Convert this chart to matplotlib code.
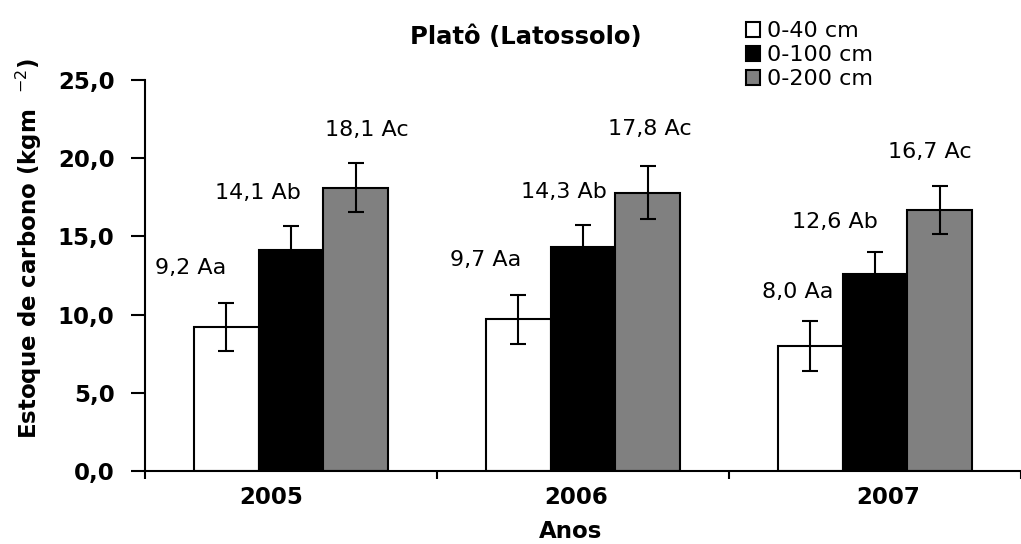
import numpy as np
import matplotlib
matplotlib.use("Agg")
import matplotlib.pyplot as plt
import matplotlib.transforms as mtransforms
from matplotlib.ticker import FuncFormatter, FixedLocator

# data
anos = ["2005", "2006", "2007"]
profundidades = ["0-40 cm", "0-100 cm", "0-200 cm"]
est_0_40 = [9.2, 9.7, 8.0]
est_0_100 = [14.1, 14.3, 12.6]
est_0_200 = [18.1, 17.8, 16.7]
erro_0_40 = [1.55, 1.55, 1.6]
erro_0_100 = [1.55, 1.4, 1.4]
erro_0_200 = [1.57, 1.7, 1.53]
letras = ["Aa", "Ab", "Ac"]

estoques = [est_0_40, est_0_100, est_0_200]
erros = [erro_0_40, erro_0_100, erro_0_200]
cores = ["white", "black", "#808080"]

# label placement (pixels, relative to bar top centre) - layout only
dx_px = [[-35, -32, -12], [-33, -19, -40], [11, 2, -10]]
dy_px = [[59, 59, 54], [57, 55, 52], [58, 64, 58]]
tick_dx_px = [-20, -7, 13]

plt.rcParams['font.family'] = 'DejaVu Sans'
fig = plt.figure(figsize=(10.21, 5.44), dpi=100)
ax = fig.add_axes([145/1021, 73/544, 876/1021, 391/544])

x = np.arange(len(anos))
w = 1/4.5
for i in range(3):
    pos = x + (i-1)*w
    ax.bar(pos, estoques[i], w, color=cores[i], edgecolor='black', linewidth=1.5,
           label=profundidades[i], zorder=2)
    ax.errorbar(pos, estoques[i], yerr=erros[i], fmt='none', ecolor='black',
                elinewidth=1.5, capsize=5.8, capthick=1.5, zorder=3)
    for j in range(len(anos)):
        txt = "{0:.1f} {1}".format(estoques[i][j], letras[i]).replace('.', ',')
        ax.annotate(txt, (pos[j], estoques[i][j]),
                    xytext=(dx_px[i][j]*0.72, dy_px[i][j]*0.72), textcoords='offset points',
                    ha='center', va='center', fontsize=16)

ax.set_xlim(-0.5, 2.5)
ax.set_ylim(0, 25)
ax.set_yticks(np.arange(0, 26, 5))
ax.yaxis.set_major_formatter(FuncFormatter(lambda v, p: "{0:.1f}".format(v).replace('.', ',')))
ax.set_xticks(x)
ax.set_xticklabels(anos)
ax.xaxis.set_minor_locator(FixedLocator([-0.5, 0.5, 1.5, 2.5]))
ax.tick_params(axis='x', which='major', length=0, pad=11)
ax.tick_params(axis='x', which='minor', length=6, width=1.5, direction='out')
ax.tick_params(axis='y', length=10, width=1.5, direction='out', pad=12)
for lab in ax.get_xticklabels() + ax.get_yticklabels():
    lab.set_fontsize(16.5)
    lab.set_fontweight('bold')
for lab, d in zip(ax.get_xticklabels(), tick_dx_px):
    lab.set_transform(lab.get_transform() + mtransforms.ScaledTranslation(d/100, 0, fig.dpi_scale_trans))

for s in ['top', 'right']:
    ax.spines[s].set_visible(False)
for s in ['left', 'bottom']:
    ax.spines[s].set_linewidth(1.5)

ax.set_ylabel("Estoque de carbono (kgm  $^{-2}$)", fontsize=16.5, fontweight='bold', va='center')
ax.yaxis.set_label_coords(-0.132, 0.569)
ax.set_xlabel("Anos", fontsize=16.5, fontweight='bold', va='center')
ax.xaxis.set_label_coords(0.486, -0.156)
ax.set_title("Platô (Latossolo)", fontsize=17.5, fontweight='bold', x=0.435, pad=26)

fig.legend(loc='upper left', bbox_to_anchor=(746/1021, 1-21/544), frameon=False,
           fontsize=16, handlelength=0.65, handleheight=0.65, handletextpad=0.3,
           labelspacing=0.18, borderpad=0, borderaxespad=0)

fig.savefig("out.png", dpi=100)
